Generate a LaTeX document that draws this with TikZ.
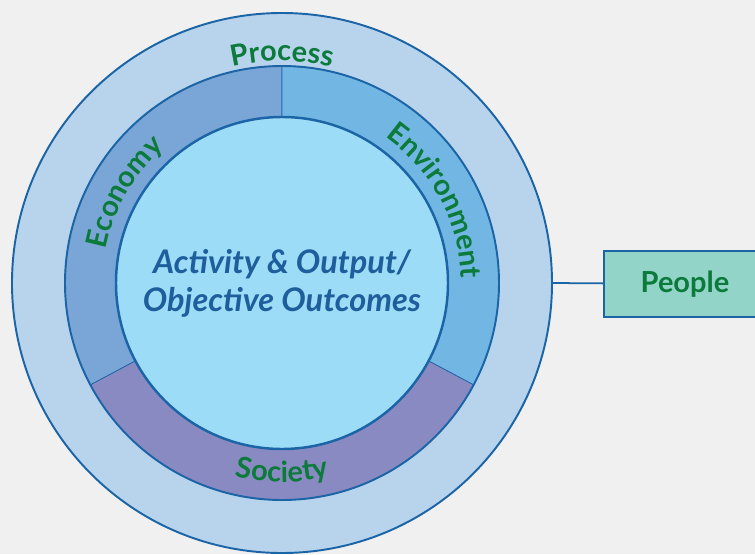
\documentclass[tikz,border=0pt]{standalone}
\usepackage{fontspec}
\setmainfont{Lato}
\usepackage{tikz}
\usetikzlibrary{calc,positioning,decorations.text}
\definecolor{paper}{HTML}{F0F0F0}
\definecolor{ringline}{HTML}{1B64A6}
\definecolor{outerfill}{HTML}{B8D3EC}
\definecolor{ecofill}{HTML}{79A6D6}
\definecolor{envfill}{HTML}{72B7E3}
\definecolor{socfill}{HTML}{8A8AC2}
\definecolor{corefill}{HTML}{9CDCF7}
\definecolor{labgreen}{HTML}{0B7A3B}
\definecolor{coretext}{HTML}{1F5E9C}
\definecolor{peoplefill}{HTML}{93D4C9}
\newcommand{\lablook}{\fontsize{16.5}{19}\selectfont\bfseries\color{labgreen}}

\begin{document}
\begin{tikzpicture}
[semithick,
ringtext/.style={decorate,decoration={text along path,text align=center,text={|\lablook|#1}}}]
\useasboundingbox[fill=paper] (-5.64,5.66) rectangle (9.46,-5.42);

\node (outer) at (0,0)[circle,draw=ringline,fill=outerfill,line width=1.1pt,minimum size=10.8cm,inner sep=0pt] {};

\filldraw[fill=ecofill,draw=ringline,thin] (0,0) -- (90:4.34) arc (90:208:4.34) -- cycle;
\filldraw[fill=envfill,draw=ringline,thin] (0,0) -- (-28:4.34) arc (-28:90:4.34) -- cycle;
\filldraw[fill=socfill,draw=ringline,thin] (0,0) -- (208:4.34) arc (208:332:4.34) -- cycle;
\draw[ringline,line width=1.1pt] (0,0) circle (4.34);

\node (core) at (0,0)[circle,draw=ringline,fill=corefill,line width=1.4pt,minimum size=6.64cm,inner sep=0pt,
  align=center,text=coretext,font=\fontsize{18.5}{21.5}\selectfont\bfseries\itshape] {Activity \& Output/\\Objective Outcomes};

\path[ringtext=Process] (115:4.44) arc (115:65:4.44);
\path[ringtext=Economy] (195:3.58) arc (195:105:3.58);
\path[ringtext=Environment] (80:3.58) arc (80:-24:3.58);
\path[ringtext=Society] (235:3.98) arc (235:305:3.98);

\node (people) at (8.06,-0.02)[rectangle,draw=ringline,fill=peoplefill,line width=1pt,
  minimum width=3.24cm,minimum height=1.32cm,font=\lablook] {People};

\draw[ringline,line width=1pt] (outer.east) -- (people);
\end{tikzpicture}
\end{document}
